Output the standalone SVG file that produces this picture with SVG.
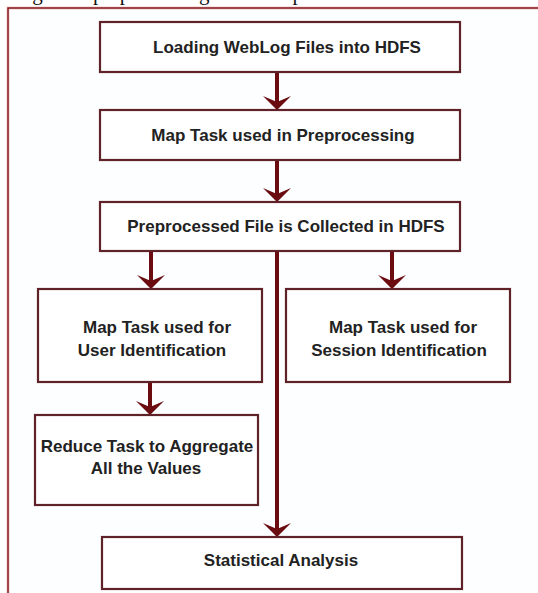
<svg xmlns="http://www.w3.org/2000/svg" width="538" height="593" viewBox="0 0 538 593">
  <style>
    .box { fill: #ffffff; stroke: #5e2228; stroke-width: 2.2; }
    .lbl { font-family: "Liberation Sans", Arial, sans-serif; font-weight: bold; font-size: 17px; fill: #222222; text-anchor: middle; }
    .flow { stroke: #6a0c10; stroke-width: 4; fill: none; marker-end: url(#head); }
    .caption { font-family: "Liberation Serif", "Times New Roman", serif; font-size: 21px; fill: #111111; }
  </style>
  <defs>
    <!-- stealth arrowhead; the notch sits on the line end, the tip 8px beyond -->
    <marker id="head" markerUnits="userSpaceOnUse" viewBox="-15 -15 16 30" refX="-8" refY="0" markerWidth="16" markerHeight="30" orient="auto">
      <path d="M0,0 L-14,-14 L-8,0 L-14,14 Z" fill="#6a0c10"/>
    </marker>
  </defs>

  <rect width="538" height="593" fill="#ffffff"/>
  <!-- caption line, clipped by the top edge -->
  <text class="caption" x="-12" y="-0.5">Storage and preprocessing in Hadoop MRS</text>

  <!-- outer frame -->
  <rect x="8" y="8" width="540" height="600" fill="#fdfeff" stroke="#f4c8c8" stroke-width="3"/>
  <rect x="8" y="8" width="540" height="600" fill="none" stroke="#7a1014" stroke-width="1.4"/>

  <g id="connectors">
    <line class="flow" x1="277" y1="72" x2="277" y2="102"/>
    <line class="flow" x1="277" y1="160" x2="277" y2="194"/>
    <line class="flow" x1="151" y1="251" x2="151" y2="281"/>
    <line class="flow" x1="392" y1="251" x2="392" y2="281"/>
    <line class="flow" x1="150" y1="382" x2="150" y2="407"/>
    <line class="flow" x1="277" y1="251" x2="277" y2="529"/>
  </g>

  <g id="load">
    <rect class="box" x="100" y="22" width="360" height="50"/>
    <text class="lbl" x="287" y="53">Loading WebLog Files into HDFS</text>
  </g>
  <g id="map-preprocess">
    <rect class="box" x="100" y="110" width="360" height="50"/>
    <text class="lbl" x="283" y="141">Map Task used in Preprocessing</text>
  </g>
  <g id="collected">
    <rect class="box" x="100" y="202" width="360" height="49"/>
    <text class="lbl" x="286" y="232">Preprocessed File is Collected in HDFS</text>
  </g>
  <g id="map-user">
    <rect class="box" x="38" y="289" width="224" height="93"/>
    <text class="lbl" x="157" y="333">Map Task used for</text>
    <text class="lbl" x="152" y="356">User Identification</text>
  </g>
  <g id="map-session">
    <rect class="box" x="286" y="289" width="224" height="93"/>
    <text class="lbl" x="403" y="333">Map Task used for</text>
    <text class="lbl" x="399" y="356">Session Identification</text>
  </g>
  <g id="reduce">
    <rect class="box" x="35" y="415" width="223" height="90"/>
    <text class="lbl" x="147" y="452">Reduce Task to Aggregate</text>
    <text class="lbl" x="146" y="474">All the Values</text>
  </g>
  <g id="stats">
    <rect class="box" x="102" y="537" width="360" height="52"/>
    <text class="lbl" x="281" y="566">Statistical Analysis</text>
  </g>
</svg>
